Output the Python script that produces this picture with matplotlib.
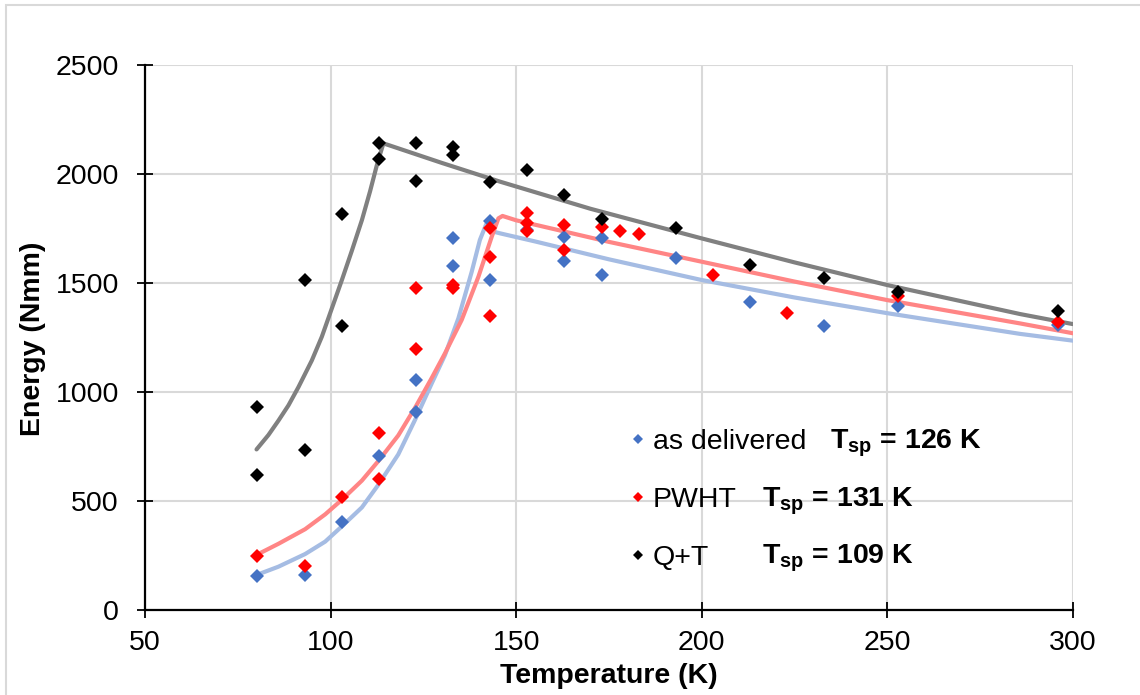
import matplotlib
matplotlib.use("Agg")
import matplotlib.pyplot as plt
from matplotlib.lines import Line2D
from matplotlib.patches import Rectangle

plt.rcParams["font.family"] = ["Liberation Sans", "DejaVu Sans"]
plt.rcParams["mathtext.fontset"] = "custom"
plt.rcParams["mathtext.rm"] = "Liberation Sans"
plt.rcParams["mathtext.bf"] = "Liberation Sans:bold"

# measured points (temperature K, energy Nmm)
asdel_T = [80, 93, 103, 113, 123, 123, 133, 133, 143, 143, 153, 163, 163,
           173, 173, 193, 213, 233, 253, 296]
asdel_E = [155, 164, 405, 707, 908, 1057, 1710, 1581, 1786, 1516, 1745,
           1714, 1602, 1707, 1537, 1617, 1414, 1302, 1394, 1310]

pwht_T = [80, 93, 103, 113, 113, 123, 123, 133, 133, 143, 143, 143, 153,
          153, 153, 163, 163, 173, 178, 183, 203, 223, 253, 296]
pwht_E = [248, 203, 518, 811, 600, 1478, 1199, 1494, 1479, 1756, 1619,
          1351, 1824, 1777, 1740, 1767, 1652, 1759, 1739, 1724, 1537, 1363,
          1443, 1324]

qt_T = [80, 80, 93, 93, 103, 103, 113, 113, 123, 123, 133, 133, 143, 153,
        163, 173, 193, 213, 233, 253, 296]
qt_E = [933, 619, 1517, 735, 1816, 1302, 2145, 2071, 2142, 1971, 2126,
        2088, 1964, 2022, 1907, 1797, 1754, 1586, 1523, 1462, 1373]

# fitted transition curves
asdel_fit_T = [80, 85.9, 93.1, 98.5, 103, 108.4, 112.8, 118.2, 122.9, 127.2,
               130.8, 134.4, 138, 140.2, 142, 143.4, 145.7, 155.1, 175, 200,
               225, 250, 285.8, 300]
asdel_fit_E = [162, 200, 258, 315, 385, 472, 575, 715, 880, 1040, 1171, 1339,
               1553, 1699, 1775, 1739, 1729, 1692, 1610, 1515, 1435, 1363,
               1268, 1237]

pwht_fit_T = [80, 85.9, 93.1, 98.5, 103, 108.4, 112.8, 118.2, 122.9, 127.2,
              130.8, 135.3, 139.8, 143.4, 145.2, 146.3, 150, 175, 200, 225,
              250, 285.8, 300]
pwht_fit_E = [254, 305, 372, 440, 507, 595, 684, 802, 934, 1065, 1179, 1332,
              1530, 1714, 1798, 1809, 1789, 1690, 1599, 1508, 1423, 1316,
              1271]

qt_fit_T = [80, 83.2, 85.9, 88.6, 91.3, 94.9, 97.6, 100.3, 103, 105.7, 108.4,
            110.6, 112.4, 113.3, 114.2, 130, 145.7, 170, 200, 225, 250, 285.8,
            300]
qt_fit_E = [738, 804, 870, 940, 1024, 1146, 1255, 1385, 1515, 1650, 1790,
            1922, 2040, 2092, 2142, 2052, 1966, 1842, 1706, 1596, 1492, 1359,
            1313]

labels = ["as delivered", "PWHT", "Q+T"]
tsp = ["126", "131", "109"]

C_BLUE = "#4472C4"
C_RED = "#FF0000"
C_BLACK = "#000000"

fig = plt.figure(figsize=(11.4, 6.95), dpi=100)
ax = fig.add_axes([0.1274, 0.1219, 0.8136, 0.7841])

# light chart-area border
fig.add_artist(Rectangle((6 / 1140, -0.1), 1.2, 1 - 5 / 695 + 0.1,
                         transform=fig.transFigure, fill=False,
                         edgecolor="#d9d9d9", lw=1.5))

lw_fit = 3.0
for t, e, c in [(asdel_fit_T, asdel_fit_E, "#A5BCE3"),
                (pwht_fit_T, pwht_fit_E, "#FF8585"),
                (qt_fit_T, qt_fit_E, "#808080")]:
    ax.plot(t, e, color=c, lw=lw_fit, zorder=2, solid_joinstyle="round",
            solid_capstyle="round")

ms = 7.5
ax.plot(asdel_T, asdel_E, "D", color=C_BLUE, ms=ms, mew=0, zorder=3)
ax.plot(pwht_T, pwht_E, "D", color=C_RED, ms=ms, mew=0, zorder=4)
ax.plot(qt_T, qt_E, "D", color=C_BLACK, ms=ms, mew=0, zorder=5)

ax.set_xlim(50, 300)
ax.set_ylim(0, 2500)
ax.set_xticks(range(50, 301, 50))
ax.set_yticks(range(0, 2501, 500))
ax.grid(True, color="#d9d9d9", lw=1.5, zorder=0)
ax.set_axisbelow(True)
for s in ["top", "right"]:
    ax.spines[s].set_visible(False)
for s in ["left", "bottom"]:
    ax.spines[s].set_linewidth(1.6)
    ax.spines[s].set_zorder(6)
ax.tick_params(axis="both", direction="inout", length=12, width=1.3,
               labelsize=20.5, colors="black")
ax.tick_params(axis="y", pad=13)
ax.tick_params(axis="x", pad=8)

ax.set_xlabel("Temperature (K)", fontsize=20.5, fontweight="bold")
ax.set_ylabel("Energy (Nmm)", fontsize=20.5, fontweight="bold")
ax.xaxis.set_label_coords(0.5, -0.1206)
ax.xaxis.label.set_va("center")
ax.yaxis.set_label_coords(-0.121, 0.498)
ax.yaxis.label.set_va("center")

handles = [Line2D([], [], marker="D", color=c, ls="none", ms=5.5, mew=0)
           for c in (C_BLUE, C_RED, C_BLACK)]
ax.legend(handles, labels, loc="upper left", bbox_to_anchor=(0.5222, 0.3325),
          frameon=False, fontsize=20.5, handlelength=0.6, handletextpad=0.22,
          labelspacing=1.12, borderpad=0, borderaxespad=0)

tsp_x = [0.7383, 0.6647, 0.6647]
tsp_y = [0.2965, 0.1900, 0.0855]
for x, y, v in zip(tsp_x, tsp_y, tsp):
    ax.text(x, y, r"$\mathbf{T_{sp}}$" + " = " + v + " K", transform=ax.transAxes,
            fontsize=20.5, fontweight="bold", va="baseline", ha="left")

fig.savefig("out.png", dpi=100)
